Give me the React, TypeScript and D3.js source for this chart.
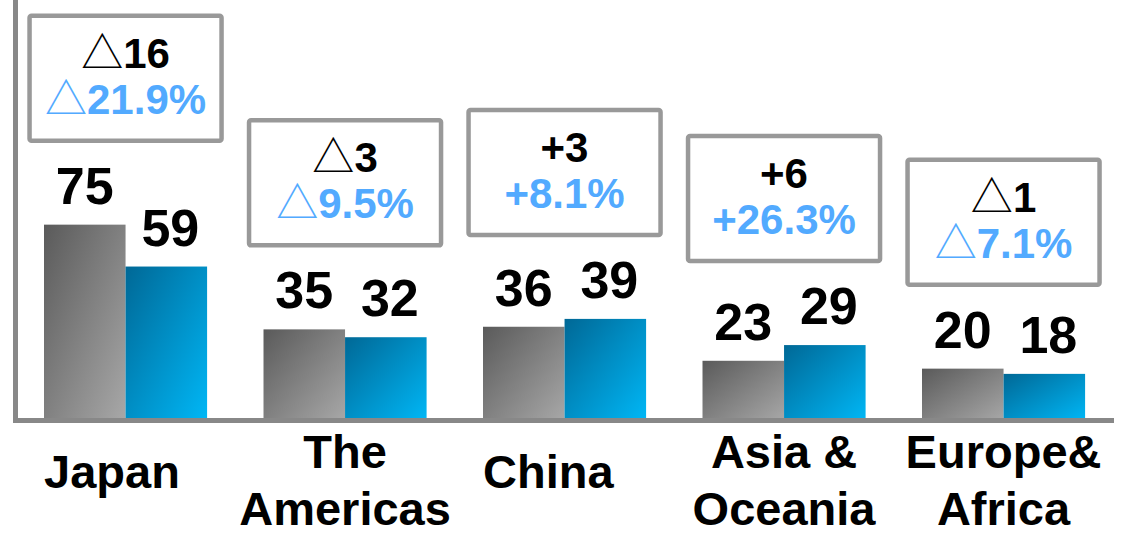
import React from "react";
import * as d3 from "d3";

const categories = ["Japan", "The Americas", "China", "Asia & Oceania", "Europe& Africa"];
const categoryLines = [["Japan"], ["The", "Americas"], ["China"], ["Asia &", "Oceania"], ["Europe&", "Africa"]];
const prevValues = [75, 35, 36, 23, 20];
const currValues = [59, 32, 39, 29, 18];
const diffLabels = ["△16", "△3", "+3", "+6", "△1"];
const pctLabels = ["△21.9%", "△9.5%", "+8.1%", "+26.3%", "△7.1%"];
const seriesKeys = ["prev", "curr"];

const W = 1124;
const H = 534;
const FONT = "'Liberation Sans', Arial, Helvetica, sans-serif";
const TRI_FONT = "'Noto Sans CJK JP', 'DejaVu Sans', sans-serif";

function LabelText({ text, x, y, size, color }: { text: string; x: number; y: number; size: number; color: string }) {
  const hasTri = text.startsWith("△");
  const rest = hasTri ? text.slice(1) : text;
  return (
    <text x={x} y={y} textAnchor="middle" fontFamily={FONT} fontWeight="bold" fontSize={size} fill={color}>
      {hasTri && (
        <tspan fontFamily={TRI_FONT} fontWeight="normal" fontSize={size}>
          △
        </tspan>
      )}
      <tspan>{rest}</tspan>
    </text>
  );
}

export default function App() {
  const x0 = d3.scaleBand<string>().domain(categories).range([15.8, 1113.3]).paddingInner(0.257).paddingOuter(0.1285);
  const x1 = d3.scaleBand<string>().domain(seriesKeys).range([0, x0.bandwidth()]).padding(0);
  const y = d3.scaleLinear().domain([0, 100]).range([421, 421 - 261.8]);

  const boxW = 192;
  const boxH = 125;

  return (
    <svg width={W} height={H} style={{ position: "absolute", left: 0, top: 0, background: "#fff" }}>
      <defs>
        <linearGradient id="gGray" x1="0" y1="0" x2="1" y2="1">
          <stop offset="0%" stopColor="#5a5a5a" />
          <stop offset="100%" stopColor="#a8a8a8" />
        </linearGradient>
        <linearGradient id="gBlue" x1="0" y1="0" x2="1" y2="1">
          <stop offset="0%" stopColor="#006896" />
          <stop offset="100%" stopColor="#00b7f6" />
        </linearGradient>
      </defs>

      {categories.map((c, i) => {
        const gx = x0(c)!;
        const vals = [prevValues[i], currValues[i]];
        const maxV = Math.max(...vals);
        const boxBottom = y(maxV) - 84;
        const boxTop = boxBottom - boxH;
        const cx = gx + x0.bandwidth() / 2;
        const single = categoryLines[i].length === 1;
        return (
          <g key={c}>
            {seriesKeys.map((k, j) => {
              const bx = gx + x1(k)!;
              const v = vals[j];
              return (
                <g key={k}>
                  <rect
                    x={bx}
                    y={y(v)}
                    width={x1.bandwidth()}
                    height={y(0) - y(v)}
                    fill={j === 0 ? "url(#gGray)" : "url(#gBlue)"}
                  />
                  <text
                    x={bx + x1.bandwidth() / 2 + (j === 1 ? 4 : 0)}
                    y={y(v) - 21}
                    textAnchor="middle"
                    fontFamily={FONT}
                    fontWeight="bold"
                    fontSize={52}
                    fill="#000"
                  >
                    {v}
                  </text>
                </g>
              );
            })}
            <rect
              x={cx - boxW / 2}
              y={boxTop}
              width={boxW}
              height={boxH}
              rx={2}
              fill="#fff"
              stroke="#999999"
              strokeWidth={4.5}
            />
            <LabelText text={diffLabels[i]} x={cx} y={boxTop + 52} size={42} color="#000" />
            <LabelText text={pctLabels[i]} x={cx} y={boxTop + 98} size={42} color="#52aaff" />
            <text
              textAnchor={single ? "start" : "middle"}
              fontFamily={FONT}
              fontWeight="bold"
              fontSize={47}
              fill="#000"
            >
              {categoryLines[i].map((ln, li) => (
                <tspan key={li} x={single ? gx : cx} y={single ? 488 : 468 + li * 57}>
                  {ln}
                </tspan>
              ))}
            </text>
          </g>
        );
      })}

      <line x1={15.5} x2={15.5} y1={0} y2={423} stroke="#888888" strokeWidth={5} />
      <line x1={13} x2={1114} y1={420.5} y2={420.5} stroke="#888888" strokeWidth={5} />
    </svg>
  );
}
